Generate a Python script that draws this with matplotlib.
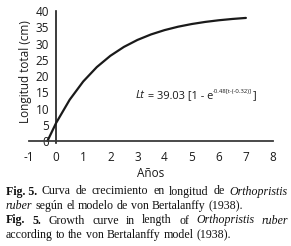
import matplotlib
matplotlib.use("Agg")
import matplotlib.pyplot as plt

# ---- data ----
age_years = [-0.32, 0, 0.5, 1, 1.5, 2, 2.5, 3, 3.5, 4, 4.5, 5, 5.5, 6, 6.5, 7]
length_cm = [0, 5.56, 12.70, 18.32, 22.74, 26.21, 28.95, 31.10, 32.79, 34.12,
             35.17, 35.99, 36.64, 37.15, 37.55, 37.87]
x_ticks = [-1, 0, 1, 2, 3, 4, 5, 6, 7, 8]
y_ticks = [0, 5, 10, 15, 20, 25, 30, 35, 40]
x_label = "Años"
y_label = "Longitud total (cm)"
eq_parts = [("Lt", "italic", "base"), (" = 39.03 [1 - e", "normal", "base"),
            ("-0.48[t-(-0.32)]", "normal", "sup"), ("]", "normal", "base")]

caption_lines = [
    ([("Fig. 5.", "bold", "normal"), ("Curva", "normal", "normal"), ("de", "normal", "normal"),
      ("crecimiento", "normal", "normal"), ("en", "normal", "normal"), ("longitud", "normal", "normal"),
      ("de", "normal", "normal"), ("Orthopristis", "normal", "italic")], True),
    ([("ruber", "normal", "italic"), ("según", "normal", "normal"), ("el", "normal", "normal"),
      ("modelo", "normal", "normal"), ("de", "normal", "normal"), ("von", "normal", "normal"),
      ("Bertalanffy", "normal", "normal"), ("(1938).", "normal", "normal")], False),
    ([("Fig.", "bold", "normal"), ("5.", "bold", "normal"), ("Growth", "normal", "normal"),
      ("curve", "normal", "normal"), ("in", "normal", "normal"), ("length", "normal", "normal"),
      ("of", "normal", "normal"), ("Orthopristis", "normal", "italic"), ("ruber", "normal", "italic")], True),
    ([("according", "normal", "normal"), ("to", "normal", "normal"), ("the", "normal", "normal"),
      ("von", "normal", "normal"), ("Bertalanffy", "normal", "normal"), ("model", "normal", "normal"),
      ("(1938).", "normal", "normal")], False),
]

plt.rcParams['font.family'] = ['Open Sans', 'DejaVu Sans']
plt.rcParams['axes.unicode_minus'] = False

W, H = 291, 246
fig = plt.figure(figsize=(W / 100, H / 100), dpi=100)
ax = fig.add_axes([29 / W, 1 - 143.3 / H, 244 / W, 132.3 / H])

ax.plot(age_years, length_cm, color="#1a1a1a", lw=1.6, solid_capstyle="round")
ax.set_xlim(-1, 8)
ax.set_ylim(-0.7, 40)

for s in ("top", "right"):
    ax.spines[s].set_visible(False)
ax.spines["left"].set_position(("data", 0))
ax.spines["left"].set_color("#1a1a1a")
ax.spines["left"].set_linewidth(1.2)
ax.spines["bottom"].set_position(("data", 0))
ax.spines["bottom"].set_color("#3a3a3a")
ax.spines["bottom"].set_linewidth(1.3)

ax.set_xticks(x_ticks)
ax.set_yticks(y_ticks)
ax.tick_params(axis="both", length=0, labelsize=8.5, colors="#1a1a1a")
ax.tick_params(axis="x", pad=7)
ax.tick_params(axis="y", pad=5)

ax.set_ylabel(y_label, fontsize=8.5, color="#1a1a1a")
ax.yaxis.set_label_coords(0.012, 0.546)
ax.set_xlabel(x_label, fontsize=8.5, color="#1a1a1a")
ax.xaxis.set_label_coords(0.5, -0.18)

fig.canvas.draw()
renderer = fig.canvas.get_renderer()

# ---- equation, composed piece by piece ----
x = 136
base_y = 98
for txt, style, kind in eq_parts:
    if kind == "sup":
        t = fig.text(x / W, 1 - (base_y - 5.5) / H, txt, fontsize=4.3, style=style,
                     va="baseline", ha="left", color="#1a1a1a")
    else:
        t = fig.text(x / W, 1 - base_y / H, txt, fontsize=7.9, style=style,
                     va="baseline", ha="left", color="#1a1a1a")
    x += t.get_window_extent(renderer).width

# ---- caption (justified) ----
x_left, x_right = 6, 288
line_centers = [190, 204.5, 219, 233.5]
cap_size = 8.6
sp = fig.text(0, 0, "a a", fontsize=cap_size, family="Liberation Serif")
sp2 = fig.text(0, 0, "aa", fontsize=cap_size, family="Liberation Serif")
space_w = sp.get_window_extent(renderer).width - sp2.get_window_extent(renderer).width
sp.remove()
sp2.remove()
for (words, justify), yc in zip(caption_lines, line_centers):
    texts = []
    widths = []
    for w, weight, style in words:
        t = fig.text(0, 1 - yc / H, w, fontsize=cap_size, family="Liberation Serif",
                     weight=weight, style=style, va="center_baseline", ha="left", color="#111111")
        texts.append(t)
        widths.append(t.get_window_extent(renderer).width)
    if justify:
        gap = (x_right - x_left - sum(widths)) / (len(words) - 1)
    else:
        gap = space_w
    x = x_left
    for t, wd in zip(texts, widths):
        t.set_x(x / W)
        x += wd + gap

fig.savefig("out.png", dpi=100)
